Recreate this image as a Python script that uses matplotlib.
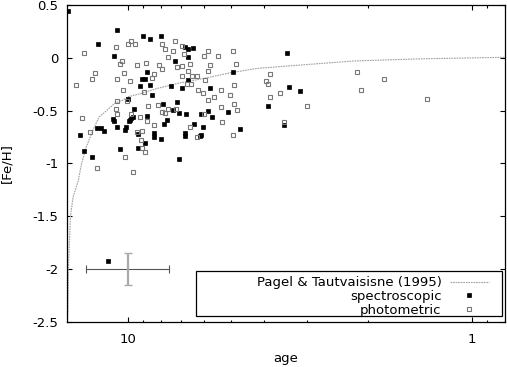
import numpy as np
import matplotlib
matplotlib.use("Agg")
import matplotlib.pyplot as plt
from matplotlib.ticker import FixedLocator, FixedFormatter, LogLocator, NullFormatter
from matplotlib.patches import Rectangle

plt.rcParams['font.family'] = ['DejaVu Sans']
plt.rcParams['font.size'] = 9.5

# Pagel & Tautvaisiene (1995) age-metallicity relation
curve_age = [14.95, 14.9, 14.85, 14.65, 14.4, 13.9, 13.6, 13.2, 12.7, 12.5, 12.1, 11.5,
             10.9, 10.3, 10.0, 9.2, 8.2, 7.1, 5.9, 5.0, 4.2, 3.2, 2.2, 1.43, 0.8]
curve_feh = [-2.5, -2.38, -1.99, -1.5, -1.32, -1.16, -1.0, -0.85, -0.71, -0.66, -0.56, -0.50,
             -0.43, -0.40, -0.37, -0.34, -0.29, -0.24, -0.19, -0.14, -0.10, -0.07, -0.03, -0.01, 0.005]

# spectroscopic (filled squares)
spec_age = [14.85, 10.75, 12.15, 9.0, 8.6, 8.0, 10.95, 6.8, 6.65, 6.45, 6.65, 7.3, 8.8, 9.1,
            8.9, 8.6, 9.2, 8.5, 7.5, 6.95, 6.65, 5.75, 4.95, 9.95, 9.6, 7.9, 7.2, 7.1, 7.4,
            7.7, 7.85, 6.75, 6.4, 6.15, 8.75, 9.65, 9.85, 8.4, 8.4, 8.0, 9.3, 8.9, 9.3, 6.8,
            6.8, 7.1, 11.0, 9.75, 9.9, 10.1, 10.2, 10.75, 12.3, 11.95, 11.7, 13.7, 13.4, 12.65,
            10.5, 5.85, 6.1, 5.7, 5.1, 6.05, 6.1, 4.7, 3.9, 3.45, 3.4, 3.15, 3.5, 11.4, 10.95]
spec_feh = [0.44, 0.26, 0.13, 0.21, 0.18, 0.21, 0.02, 0.10, 0.08, 0.09, 0.01, -0.03, -0.13, -0.20,
            -0.20, -0.26, -0.27, -0.35, -0.27, -0.29, -0.21, -0.29, -0.13, -0.39, -0.48, -0.44,
            -0.42, -0.52, -0.49, -0.59, -0.63, -0.53, -0.63, -0.74, -0.55, -0.56, -0.59, -0.71,
            -0.75, -0.77, -0.72, -0.81, -0.85, -0.71, -0.74, -0.96, -0.58, -0.57, -0.60, -0.65,
            -0.68, -0.65, -0.66, -0.66, -0.69, -0.73, -0.88, -0.94, -0.86, -0.50, -0.53, -0.56,
            -0.51, -0.65, -0.73, -0.67, -0.46, 0.05, -0.28, -0.31, -0.64, -1.92, -0.60]

# photometric (open squares)
phot_age = [13.35, 10.8, 9.95, 9.75, 10.4, 10.5, 12.45, 12.65, 10.75, 10.25, 9.85, 14.1, 10.3,
            9.5, 7.95, 7.3, 7.8, 6.95, 7.4, 7.65, 6.85, 8.85, 9.4, 8.1, 7.95, 7.2, 6.95, 6.6,
            8.4, 6.65, 8.5, 6.95, 6.5, 6.3, 6.7, 6.55, 6.25, 8.95, 6.0, 5.85, 5.45, 4.95, 5.75,
            4.85, 5.85, 5.95, 4.9, 5.35, 6.05, 5.05, 3.95, 3.9, 5.85, 5.6, 5.35, 4.9, 4.8, 5.3,
            4.95, 6.0, 8.7, 8.15, 7.95, 7.8, 7.65, 7.25, 9.2, 8.8, 8.35, 9.1, 9.4, 9.15, 9.05,
            8.9, 6.6, 6.3, 9.65, 9.75, 10.7, 10.8, 10.75, 13.6, 12.85, 10.05, 10.2, 12.3, 3.85,
            3.6, 3.85, 3.0, 3.5, 2.15, 2.1, 1.8, 1.35]
phot_feh = [0.05, 0.10, 0.13, 0.16, -0.03, -0.06, -0.14, -0.20, -0.20, -0.14, -0.22, -0.26, -0.30,
            0.13, 0.13, 0.16, 0.08, 0.11, 0.06, 0.01, 0.04, -0.05, -0.07, -0.07, -0.11, -0.09,
            -0.08, -0.06, -0.15, -0.12, -0.19, -0.17, -0.17, -0.17, -0.25, -0.25, -0.30, -0.32,
            0.02, 0.06, 0.02, 0.06, -0.07, -0.06, -0.12, -0.21, -0.26, -0.30, -0.33, -0.35, -0.22,
            -0.25, -0.40, -0.37, -0.47, -0.44, -0.49, -0.61, -0.73, -0.53, -0.46, -0.45, -0.51,
            -0.52, -0.48, -0.48, -0.56, -0.60, -0.64, -0.69, -0.70, -0.78, -0.85, -0.89, -0.65,
            -0.75, -1.08, -0.53, -0.41, -0.48, -0.53, -0.57, -0.70, -0.41, -0.94, -1.04, -0.15,
            -0.33, -0.37, -0.46, -0.61, -0.13, -0.30, -0.20, -0.39]

# typical error bar
err_age, err_feh = 10.0, -2.0
err_age_lo, err_age_hi = 7.6, 13.2
err_feh_size = 0.15

x_major = [10, 1]
x_major_labels = ['10', '1']
y_ticks = [0.5, 0, -0.5, -1, -1.5, -2, -2.5]
y_labels = ['0.5', '0', '-0.5', '-1', '-1.5', '-2', '-2.5']

fig = plt.figure(figsize=(5.07, 3.67), dpi=100)
ax = fig.add_axes([0.132, 0.1226, 0.864, 0.8638])

ax.plot(curve_age, curve_feh, color='#a0a0a0', lw=0.8, ls=(0, (1.5, 0.8)),
        label='Pagel & Tautvaisisne (1995)')
ax.plot(spec_age, spec_feh, ls='none', marker='s', ms=3.0, mfc='black', mec='black',
        mew=0.5, label='spectroscopic')
ax.plot(phot_age, phot_feh, ls='none', marker='s', ms=3.4, mfc='none', mec='#777777',
        mew=0.8, label='photometric')

ax.errorbar(err_age, err_feh, xerr=[[err_age - err_age_lo], [err_age_hi - err_age]],
            fmt='none', ecolor='#555555', elinewidth=0.8, capsize=3, capthick=0.8)
ax.errorbar(err_age, err_feh, yerr=err_feh_size, fmt='none', ecolor='#aaaaaa',
            elinewidth=1.6, capsize=3, capthick=1.0)

ax.set_xscale('log')
ax.set_xlim(15, 0.8)
ax.set_ylim(-2.5, 0.5)
ax.xaxis.set_major_locator(FixedLocator(x_major))
ax.xaxis.set_major_formatter(FixedFormatter(x_major_labels))
ax.xaxis.set_minor_locator(LogLocator(base=10, subs=np.arange(2, 10)))
ax.xaxis.set_minor_formatter(NullFormatter())
ax.set_yticks(y_ticks)
ax.set_yticklabels(y_labels)
ax.tick_params(which='both', direction='in', top=True, right=True, color='black')
ax.tick_params(which='major', length=3.6, width=0.8, pad=6)
ax.tick_params(axis='x', which='major', pad=8)
ax.tick_params(which='minor', length=1.8, width=0.8)
for s in ax.spines.values():
    s.set_linewidth(0.9)

ax.set_xlabel('age', labelpad=4)
ax.set_ylabel('[Fe/H]', labelpad=14)

leg = ax.legend(loc='lower right', bbox_to_anchor=(0.985, -0.012), frameon=False,
                markerfirst=False, handlelength=3.0, handletextpad=0.6,
                labelspacing=0.05, borderpad=0.2)
ax.add_patch(Rectangle((0.2945, 0.019), 0.6985, 0.142, transform=ax.transAxes,
                       fill=False, edgecolor='black', lw=0.9, zorder=5))

fig.savefig('out.png', dpi=100)
